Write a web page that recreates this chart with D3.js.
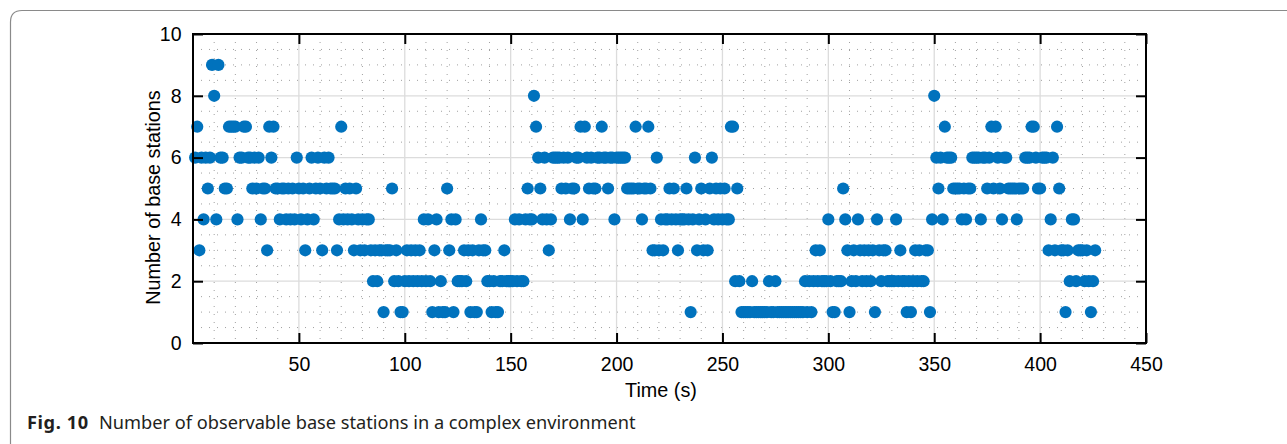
<!DOCTYPE html>
<html>
<head>
<meta charset="utf-8">
<script src="https://cdn.jsdelivr.net/npm/d3@7"></script>
<style>
  body { margin: 0; background: #fff; }
  svg { display: block; }
</style>
</head>
<body>
<svg id="chart" width="1287" height="444"></svg>
<script>
// number of observable base stations, one sample per second starting at t = 1 s
var firstTime = 1;
var stationCounts = [
    6,7,3,6,4,6,5,6,9,8,  4,9,6,6,5,5,7,7,7,7,  4,6,6,7,7,6,6,5,6,5,
    6,4,5,5,3,7,6,7,5,5,  4,5,5,4,5,4,5,4,6,5,  4,5,3,4,5,6,4,5,6,5,
    3,6,5,6,5,5,5,3,4,7,  4,5,4,5,4,3,5,4,3,4,  3,4,4,3,2,3,2,3,3,1,
    3,3,3,5,2,3,2,1,1,2,  3,2,3,2,3,2,3,2,4,2,  4,2,1,3,4,1,2,1,1,5,
    3,4,1,4,2,2,2,3,2,3,  1,3,1,1,3,4,3,3,2,2,  1,2,1,1,2,2,3,2,2,2,
    2,4,2,4,2,2,4,5,4,4,  8,7,6,5,4,6,4,3,4,6,  6,6,6,5,6,5,6,4,5,5,
    6,6,7,4,7,6,5,6,5,5,  6,6,7,6,6,5,6,6,4,6,  6,6,6,6,5,5,5,5,7,5,
    5,4,5,5,7,5,3,3,6,3,  4,3,4,4,5,4,5,4,3,4,  4,4,5,4,1,4,6,3,4,5,
    3,4,3,5,6,4,5,4,5,4,  5,4,4,7,7,2,5,2,1,1,  1,1,1,2,1,1,1,1,1,1,
    1,2,1,1,2,1,1,1,1,1,  1,1,1,1,1,1,1,1,2,1,  2,1,2,3,2,3,2,2,2,4,
    2,1,1,2,2,2,5,4,3,1,  2,3,2,4,3,2,3,2,3,2,  3,1,4,3,2,3,3,2,2,2,
    2,4,2,3,2,2,1,2,1,2,  3,2,3,2,2,3,3,1,4,8,  6,5,6,4,7,6,6,6,5,5,
    5,5,4,5,4,5,5,6,6,6,  6,4,6,6,5,6,7,5,7,6,  5,4,6,6,5,5,5,5,4,5,
    5,5,6,6,6,7,7,6,5,5,  6,6,6,3,4,6,3,7,5,3,  3,1,3,2,4,4,2,3,3,3,
    2,3,2,1,2,3
];

var xMajorTicks = [50, 100, 150, 200, 250, 300, 350, 400, 450];
var yMajorTicks = [0, 2, 4, 6, 8, 10];
var xMinorStep = 10;
var yMinorStep = 0.5;

var xLabel = "Time (s)";
var yLabel = "Number of base stations";
var captionBold = "Fig. 10";
var captionText = "Number of observable base stations in a complex environment";

var svg = d3.select("#chart");

var plotLeft = 193, plotRight = 1146, plotTop = 34, plotBottom = 343;
var axisFont = "'Liberation Sans', Arial, Helvetica, sans-serif";

var x = d3.scaleLinear().domain([0, 450]).range([plotLeft, plotRight]);
var y = d3.scaleLinear().domain([0, 10]).range([plotBottom, plotTop]);

var points = stationCounts.map((v, i) => ({t: firstTime + i, v: v}));

// figure frame, only the top-left corner is rounded
svg.append("path")
    .attr("d", "M10.5,444 V22 Q10.5,10.5 22,10.5 H1287")
    .attr("fill", "none")
    .attr("stroke", "#8a8a8a")
    .attr("stroke-width", 1.2);

// minor grid (dotted)
var xMinor = d3.range(xMinorStep, 450, xMinorStep).filter(d => d % 50 != 0);
var yMinor = d3.range(yMinorStep, 10, yMinorStep).filter(d => d % 2 != 0);

var grid = svg.append("g");

grid.selectAll(".xminor").data(xMinor).enter().append("line")
    .attr("x1", d => x(d)).attr("x2", d => x(d))
    .attr("y1", plotTop).attr("y2", plotBottom)
    .attr("stroke", "#a0a0a0").attr("stroke-width", 1)
    .attr("stroke-dasharray", "1,7");

grid.selectAll(".yminor").data(yMinor).enter().append("line")
    .attr("x1", plotLeft).attr("x2", plotRight)
    .attr("y1", d => y(d)).attr("y2", d => y(d))
    .attr("stroke", "#a0a0a0").attr("stroke-width", 1)
    .attr("stroke-dasharray", "1,7");

// major grid
grid.selectAll(".xmajor").data(xMajorTicks.filter(d => d < 450)).enter().append("line")
    .attr("x1", d => x(d)).attr("x2", d => x(d))
    .attr("y1", plotTop).attr("y2", plotBottom)
    .attr("stroke", "#dcdcdc").attr("stroke-width", 1.3);

grid.selectAll(".ymajor").data(yMajorTicks.filter(d => d > 0 && d < 10)).enter().append("line")
    .attr("x1", plotLeft).attr("x2", plotRight)
    .attr("y1", d => y(d)).attr("y2", d => y(d))
    .attr("stroke", "#dcdcdc").attr("stroke-width", 1.3);

// data
svg.append("g").selectAll("circle").data(points).enter().append("circle")
    .attr("cx", d => x(d.t))
    .attr("cy", d => y(d.v))
    .attr("r", 6.1)
    .attr("fill", "#0072bd");

// axes box with inward ticks
var axes = svg.append("g");

axes.append("g").attr("transform", "translate(0," + plotBottom + ")")
    .call(d3.axisBottom(x).tickValues(xMajorTicks).tickSizeInner(-10).tickSizeOuter(0).tickPadding(14));
axes.append("g").attr("transform", "translate(0," + plotTop + ")")
    .call(d3.axisTop(x).tickValues(xMajorTicks).tickSizeInner(-10).tickSizeOuter(0).tickFormat(""));
axes.append("g").attr("transform", "translate(" + plotLeft + ",0)")
    .call(d3.axisLeft(y).tickValues(yMajorTicks).tickSizeInner(-10).tickSizeOuter(0).tickPadding(11.5));
axes.append("g").attr("transform", "translate(" + plotRight + ",0)")
    .call(d3.axisRight(y).tickValues(yMajorTicks).tickSizeInner(-10).tickSizeOuter(0).tickFormat(""));

axes.selectAll("g").attr("font-family", axisFont).attr("font-size", 19.5);
axes.selectAll(".domain").remove();
axes.selectAll(".tick line").attr("stroke", "#000").attr("stroke-width", 2);
axes.selectAll(".tick text").attr("fill", "#000");

axes.append("rect")
    .attr("x", plotLeft).attr("y", plotTop)
    .attr("width", plotRight - plotLeft).attr("height", plotBottom - plotTop)
    .attr("fill", "none").attr("stroke", "#000").attr("stroke-width", 2);

// axis labels
svg.append("text")
    .attr("x", 661).attr("y", 397)
    .attr("text-anchor", "middle")
    .attr("font-family", axisFont).attr("font-size", 19.8)
    .text(xLabel);

svg.append("text")
    .attr("transform", "translate(160,197.5) rotate(-90)")
    .attr("text-anchor", "middle")
    .attr("font-family", axisFont).attr("font-size", 19.8)
    .text(yLabel);

// caption
var cap = svg.append("text")
    .attr("y", 429)
    .attr("font-family", "'Noto Sans', 'Open Sans', sans-serif").attr("font-size", 18.2)
    .attr("fill", "#231f20");
cap.append("tspan").attr("x", 27).attr("font-weight", "bold")
    .attr("letter-spacing", 0.6).text(captionBold);
cap.append("tspan").attr("x", 99).text(captionText);
</script>
</body>
</html>
